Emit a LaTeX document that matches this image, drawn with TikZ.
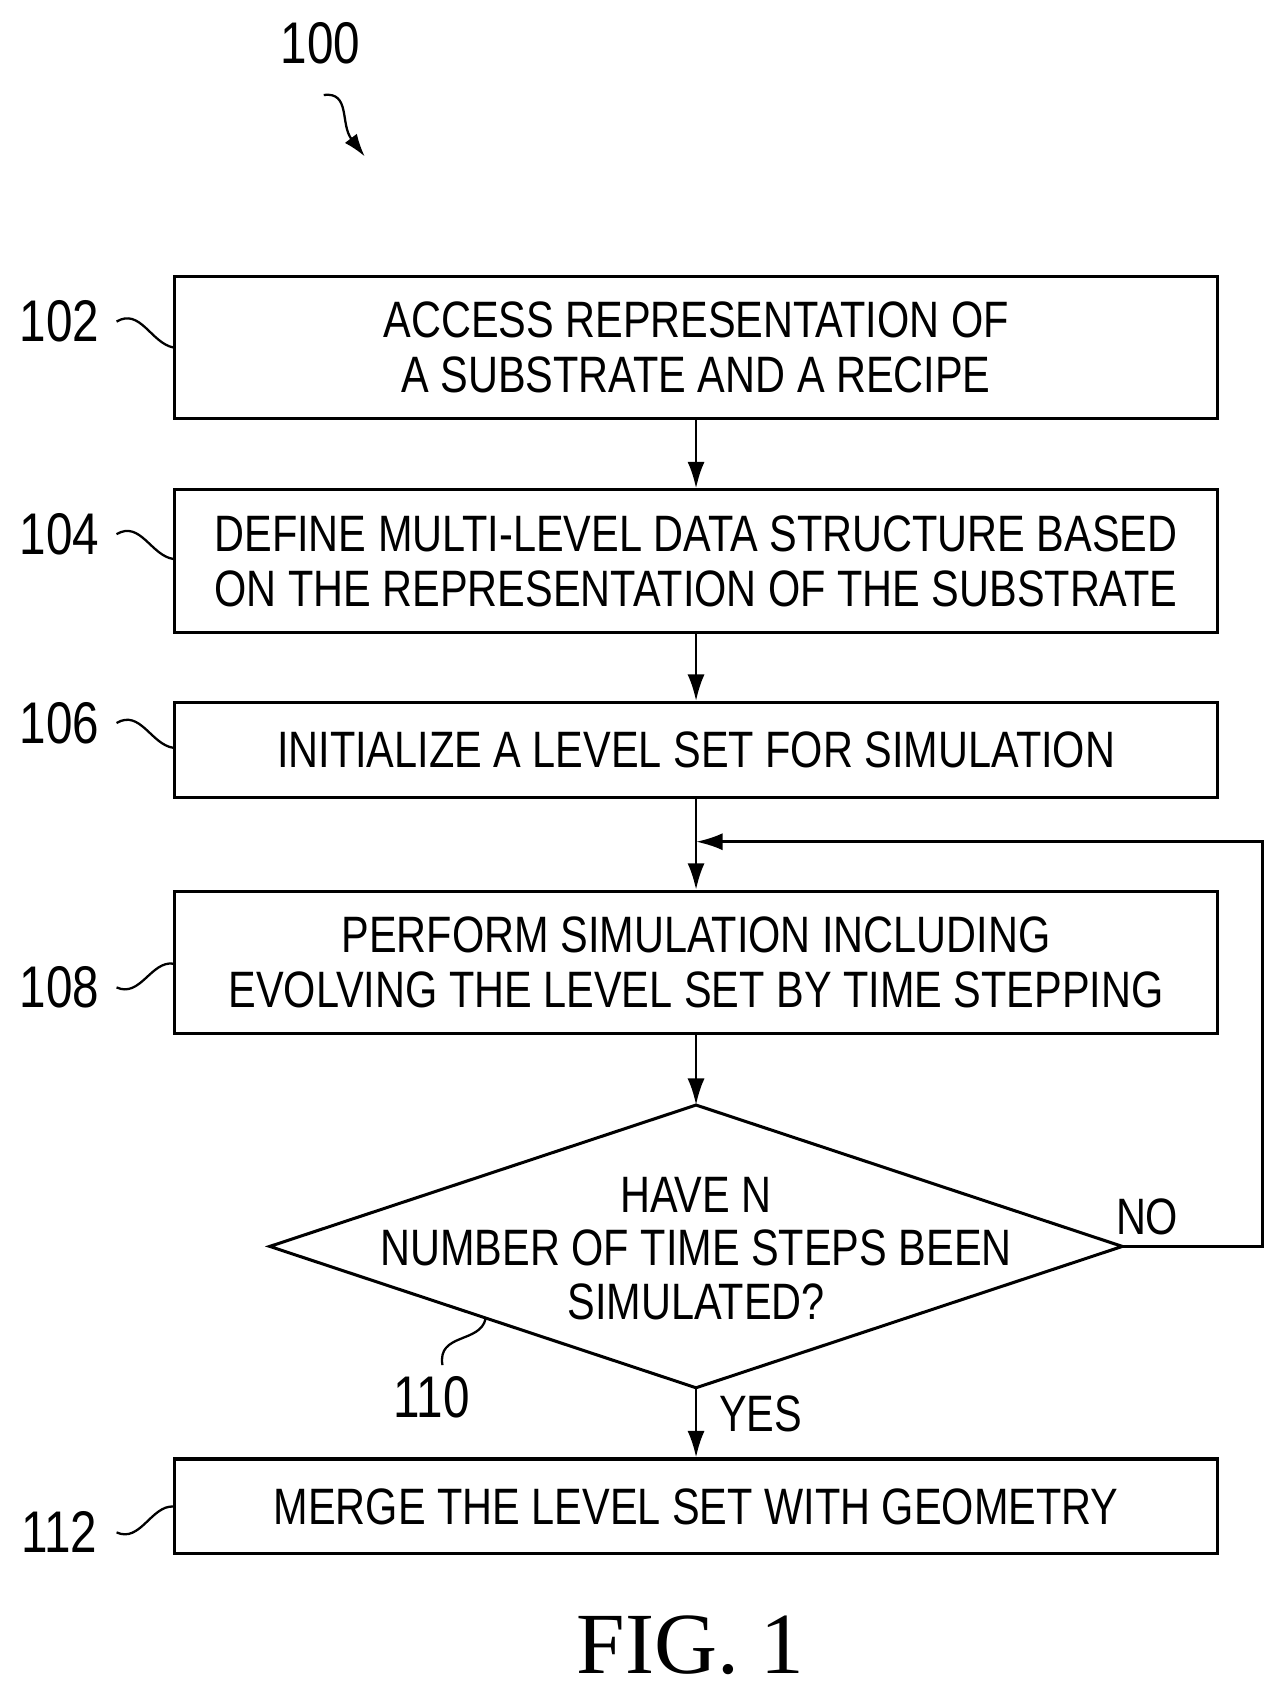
\documentclass[tikz,border=0pt]{standalone}
\usepackage{fontspec}
\setmainfont[FakeStretch=0.81]{Liberation Sans}
\newfontfamily\figfont{Liberation Serif}
\usetikzlibrary{arrows.meta}
\begin{document}
\begin{tikzpicture}[x=0.02cm,y=-0.02cm,
    box/.style = {draw, line width=1.6pt, minimum width=19.32cm, align=center, font=\fontsize{27}{29}\selectfont},
    num/.style = {font=\fontsize{31}{36}\selectfont},
    flow/.style = {-{Latex[length=14pt,width=9pt]}, line width=1.4pt},
    lead/.style = {line width=1.2pt}]
\useasboundingbox (0,0) rectangle (1190,1567);
\node[box, minimum height=2.62cm] (s102) at (645,322) {ACCESS REPRESENTATION OF\\A SUBSTRATE AND A RECIPE};
\node[box, minimum height=2.64cm] (s104) at (645,520) {DEFINE MULTI-LEVEL DATA STRUCTURE BASED\\ON THE REPRESENTATION OF THE SUBSTRATE};
\node[box, minimum height=1.76cm] (s106) at (645,695) {INITIALIZE A LEVEL SET FOR SIMULATION};
\node[box, minimum height=2.64cm] (s108) at (645,892) {PERFORM SIMULATION INCLUDING\\EVOLVING THE LEVEL SET BY TIME STEPPING};
% decision
\coordinate (dtop) at (645,1024);
\coordinate (dright) at (1040,1155);
\coordinate (dbot) at (645,1286);
\coordinate (dleft) at (250,1155);
\draw[line width=1.6pt] (dtop) -- (dright) -- (dbot) -- (dleft) -- cycle;
\node[align=center, font=\fontsize{27}{28}\selectfont] (s110) at (645,1157) {HAVE N\\NUMBER OF TIME STEPS BEEN\\SIMULATED?};
\node[box, minimum height=1.76cm] (s112) at (645,1396) {MERGE THE LEVEL SET WITH GEOMETRY};
\coordinate (loopin) at (645,780);
\coordinate (c1) at (1170,1155);
\coordinate (c2) at (1170,780);
\draw[flow] (s102) -- (s104);
\draw[flow] (s104) -- (s106);
\draw[flow] (s106) -- (s108);
\draw[flow] (s108) -- (dtop);
\draw[flow] (dbot) -- (s112);
\draw[flow] (dright) -- (c1) -- (c2) -- (loopin);
\node[font=\fontsize{27}{30}\selectfont] (no) at (1063,1128) {NO};
\node[font=\fontsize{27}{30}\selectfont] (yes) at (705,1310) {YES};
% step numbers
\node[num] (n100) at (297,40) {100};
\node[num] (n102) at (55,298) {102};
\node[num] (n104) at (55,495) {104};
\node[num] (n106) at (55,670) {106};
\node[num] (n108) at (55,915) {108};
\node[num] (n110) at (400,1295) {110};
\node[num] (n112) at (55,1420) {112};
\draw[lead] (108,298) .. controls (130,285) and (140,318) .. (s102.west |- 0,322);
\draw[lead] (108,495) .. controls (130,482) and (140,515) .. (s104.west |- 0,518);
\draw[lead] (108,670) .. controls (130,657) and (140,690) .. (s106.west |- 0,693);
\draw[lead] (108,915) .. controls (130,925) and (140,890) .. (s108.west |- 0,893);
\draw[lead] (108,1420) .. controls (130,1430) and (140,1395) .. (s112.west |- 0,1396);
\draw[lead] (410,1265) .. controls (405,1235) and (445,1245) .. (450,1222);
\draw[lead, -{Latex[length=12pt,width=8pt]}] (300,88) .. controls (325,85) and (315,115) .. (338,145);
\node[font=\figfont\fontsize{46}{50}\selectfont] (fig) at (640,1525) {FIG. 1};
\end{tikzpicture}
\end{document}
